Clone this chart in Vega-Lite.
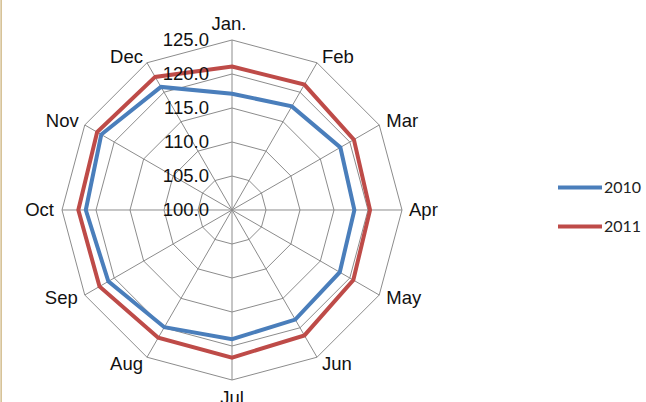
{
  "$schema": "https://vega.github.io/schema/vega-lite/v6.json",
  "width": 646,
  "height": 402,
  "autosize": {"type": "none"},
  "padding": 0,
  "background": "white",
  "config": {"view": {"stroke": null}},
  "datasets": {
    "series": [
      {"month": "Jan.", "i": 0, "year": "2010", "value": 117.1},
      {"month": "Feb", "i": 1, "year": "2010", "value": 117.6},
      {"month": "Mar", "i": 2, "year": "2010", "value": 118.4},
      {"month": "Apr", "i": 3, "year": "2010", "value": 118.0},
      {"month": "May", "i": 4, "year": "2010", "value": 118.3},
      {"month": "Jun", "i": 5, "year": "2010", "value": 118.6},
      {"month": "Jul", "i": 6, "year": "2010", "value": 119.0},
      {"month": "Aug", "i": 7, "year": "2010", "value": 119.9},
      {"month": "Sep", "i": 8, "year": "2010", "value": 121.0},
      {"month": "Oct", "i": 9, "year": "2010", "value": 121.5},
      {"month": "Nov", "i": 10, "year": "2010", "value": 122.2},
      {"month": "Dec", "i": 11, "year": "2010", "value": 120.9},
      {"month": "Jan.", "i": 0, "year": "2011", "value": 121.1},
      {"month": "Feb", "i": 1, "year": "2011", "value": 121.3},
      {"month": "Mar", "i": 2, "year": "2011", "value": 120.7},
      {"month": "Apr", "i": 3, "year": "2011", "value": 120.3},
      {"month": "May", "i": 4, "year": "2011", "value": 120.6},
      {"month": "Jun", "i": 5, "year": "2011", "value": 121.3},
      {"month": "Jul", "i": 6, "year": "2011", "value": 121.7},
      {"month": "Aug", "i": 7, "year": "2011", "value": 121.7},
      {"month": "Sep", "i": 8, "year": "2011", "value": 122.5},
      {"month": "Oct", "i": 9, "year": "2011", "value": 122.6},
      {"month": "Nov", "i": 10, "year": "2011", "value": 122.9},
      {"month": "Dec", "i": 11, "year": "2011", "value": 122.6}
    ],
    "months": [
      {"month": "Jan.", "i": 0},
      {"month": "Feb", "i": 1},
      {"month": "Mar", "i": 2},
      {"month": "Apr", "i": 3},
      {"month": "May", "i": 4},
      {"month": "Jun", "i": 5},
      {"month": "Jul", "i": 6},
      {"month": "Aug", "i": 7},
      {"month": "Sep", "i": 8},
      {"month": "Oct", "i": 9},
      {"month": "Nov", "i": 10},
      {"month": "Dec", "i": 11}
    ],
    "rings": [
      {"level": 105, "i": [0, 1, 2, 3, 4, 5, 6, 7, 8, 9, 10, 11]},
      {"level": 110, "i": [0, 1, 2, 3, 4, 5, 6, 7, 8, 9, 10, 11]},
      {"level": 115, "i": [0, 1, 2, 3, 4, 5, 6, 7, 8, 9, 10, 11]},
      {"level": 120, "i": [0, 1, 2, 3, 4, 5, 6, 7, 8, 9, 10, 11]},
      {"level": 125, "i": [0, 1, 2, 3, 4, 5, 6, 7, 8, 9, 10, 11]}
    ],
    "ticks": [
      {"level": 100, "label": "100.0"},
      {"level": 105, "label": "105.0"},
      {"level": 110, "label": "110.0"},
      {"level": 115, "label": "115.0"},
      {"level": 120, "label": "120.0"},
      {"level": 125, "label": "125.0"}
    ],
    "frame": [{"edge": -33.95}]
  },
  "layer": [
    {
      "data": {"name": "frame"},
      "mark": {"type": "rule", "stroke": "#D2BC8C", "strokeWidth": 1.5},
      "encoding": {
        "x": {"field": "edge", "type": "quantitative", "scale": {"domain": [-34.118, 60.882], "nice": false, "zero": false}, "axis": null}
      }
    },
    {
      "data": {"name": "rings"},
      "transform": [
        {"flatten": ["i"]},
        {"calculate": "(datum.level - 100) * sin(datum.i * PI / 6)", "as": "x"},
        {"calculate": "(datum.level - 100) * cos(datum.i * PI / 6)", "as": "y"}
      ],
      "mark": {"type": "line", "interpolate": "linear-closed", "stroke": "#8c8c8c", "strokeWidth": 1},
      "encoding": {
        "x": {"field": "x", "type": "quantitative", "axis": null},
        "y": {"field": "y", "type": "quantitative", "scale": {"domain": [-28.235, 30.882], "nice": false, "zero": false}, "axis": null},
        "detail": {"field": "level", "type": "nominal"},
        "order": {"field": "i", "type": "quantitative"}
      }
    },
    {
      "data": {"name": "months"},
      "transform": [
        {"calculate": "0", "as": "cx"},
        {"calculate": "0", "as": "cy"},
        {"calculate": "25 * sin(datum.i * PI / 6)", "as": "ox"},
        {"calculate": "25 * cos(datum.i * PI / 6)", "as": "oy"}
      ],
      "mark": {"type": "rule", "stroke": "#8c8c8c", "strokeWidth": 1},
      "encoding": {
        "x": {"field": "cx", "type": "quantitative", "axis": null},
        "y": {"field": "cy", "type": "quantitative", "axis": null},
        "x2": {"field": "ox"},
        "y2": {"field": "oy"}
      }
    },
    {
      "data": {"name": "series"},
      "transform": [
        {"calculate": "(datum.value - 100) * sin(datum.i * PI / 6)", "as": "x"},
        {"calculate": "(datum.value - 100) * cos(datum.i * PI / 6)", "as": "y"}
      ],
      "mark": {"type": "line", "interpolate": "linear-closed", "strokeWidth": 4},
      "encoding": {
        "x": {"field": "x", "type": "quantitative", "axis": null},
        "y": {"field": "y", "type": "quantitative", "axis": null},
        "color": {
          "field": "year",
          "type": "nominal",
          "scale": {"domain": ["2010", "2011"], "range": ["#4A7EBB", "#BE4B48"]},
          "legend": {
            "title": null,
            "orient": "none",
            "legendX": 556,
            "legendY": 168,
            "padding": 0,
            "symbolType": "stroke",
            "symbolSize": 1936,
            "symbolStrokeWidth": 4,
            "clipHeight": 39,
            "rowPadding": 0,
            "labelOffset": 0,
            "labelFont": "Lato",
            "labelFontSize": 16,
            "labelColor": "#222"
          }
        },
        "order": {"field": "i", "type": "quantitative"}
      }
    },
    {
      "data": {"name": "months"},
      "transform": [
        {"calculate": "25 * sin(datum.i * PI / 6)", "as": "lx"},
        {"calculate": "25 * cos(datum.i * PI / 6)", "as": "ly"}
      ],
      "mark": {
        "type": "text",
        "font": "Liberation Sans",
        "fontSize": 18.5,
        "color": "#111",
        "align": {"expr": "datum.i == 0 || datum.i == 6 ? 'center' : (datum.i < 6 ? 'left' : 'right')"},
        "baseline": {"expr": "(datum.i == 0 || datum.i == 1 || datum.i == 11) ? 'alphabetic' : ((datum.i >= 5 && datum.i <= 7) ? 'top' : 'middle')"},
        "dx": {"expr": "[-3, 5, 7, 7, 7, 5, 0, -4, -7, -8, -6, -4][datum.i]"},
        "dy": {"expr": "[-10, 0, -4, 0, 3, -2, 9, -2, 3, 0, -4, 0][datum.i]"}
      },
      "encoding": {
        "x": {"field": "lx", "type": "quantitative", "axis": null},
        "y": {"field": "ly", "type": "quantitative", "axis": null},
        "text": {"field": "month", "type": "nominal"}
      }
    },
    {
      "data": {"name": "ticks"},
      "transform": [
        {"calculate": "0", "as": "tx"},
        {"calculate": "datum.level - 100", "as": "ty"}
      ],
      "mark": {"type": "text", "font": "Liberation Sans", "fontSize": 18.5, "align": "right", "baseline": "middle", "dx": -23, "color": "#111"},
      "encoding": {
        "x": {"field": "tx", "type": "quantitative", "axis": null},
        "y": {"field": "ty", "type": "quantitative", "axis": null},
        "text": {"field": "label", "type": "nominal"}
      }
    }
  ]
}
